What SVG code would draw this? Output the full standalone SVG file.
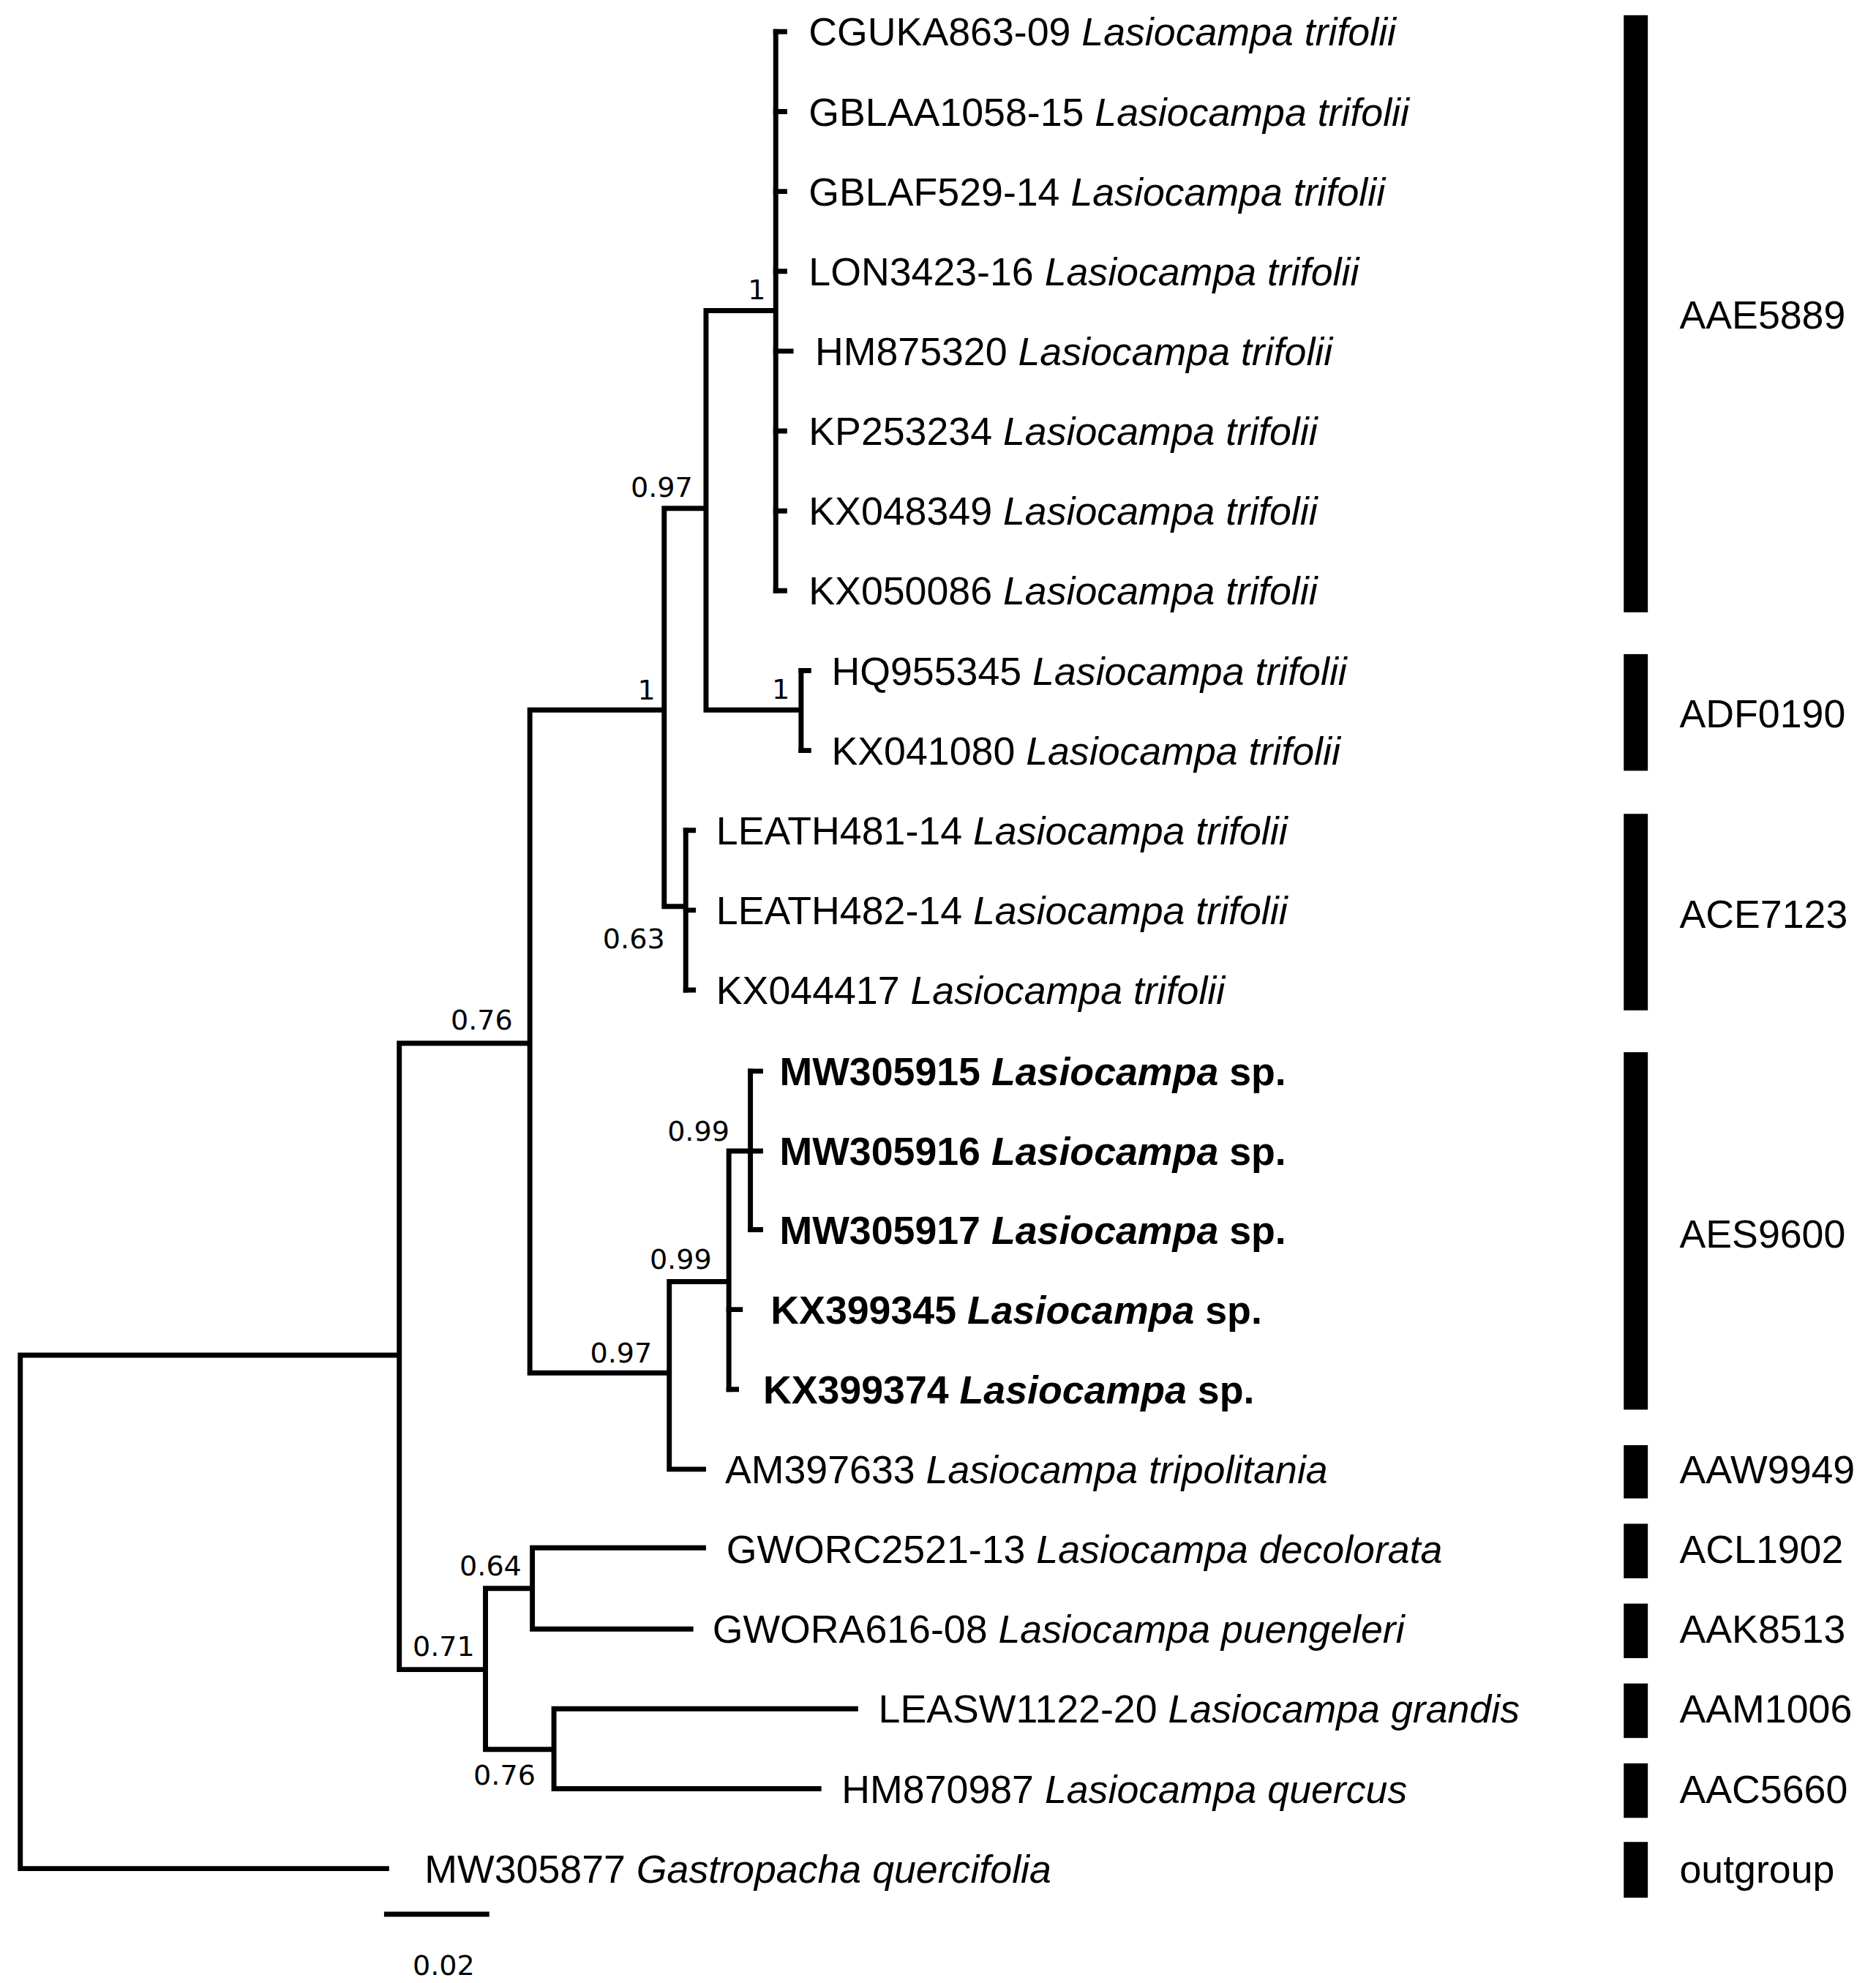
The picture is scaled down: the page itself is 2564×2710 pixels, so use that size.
<svg xmlns="http://www.w3.org/2000/svg" width="2564" height="2710" viewBox="0 0 2564 2710">
<style>
.b{fill:none;stroke:#000;stroke-width:4;stroke-linecap:square}
.t{font-family:"Liberation Sans",Arial,sans-serif;font-size:31px;fill:#000}
.s{font-style:italic}
.bd{font-weight:bold}
.n{font-family:"DejaVu Sans",sans-serif;font-size:22px;fill:#000;text-anchor:middle}
.bar{fill:#000}
</style>
<rect width="2564" height="2710" fill="#fff"/>
<g transform="scale(1.73243)">
<g id="connectors">
<path class="b" d="M16,1069V1474H305M16,1069H315M315,823V1317M315,823H418M418,560V1083M418,560H524M524,401V715M524,401H557M557,245V560M557,245H612M612,25V466M557,560H632M632,529V592M524,715H541M541,655V781M418,1083H528M528,1011V1159M528,1011H575M575,908V1096M575,908H592M592,845V970M528,1159H555M315,1317H383M383,1253V1380M383,1253H420M420,1221V1285M420,1221H555M420,1285H545M383,1380H437M437,1348V1411M437,1348H675M437,1411H646"/>
<path class="b" d="M612,25H619M612,88H619M612,151H619M612,214H619M612,277H624M612,340H619M612,403H619M612,466H619M632,529H638M632,592H638M541,655H547M541,718H547M541,781H547M592,845H600M592,908H600M592,970H600M575,1033H584M575,1096H581"/>
<path class="b" d="M305,1510H384"/>
</g>
<g id="support" >
<text class="n" x="597" y="236">1</text>
<text class="n" x="522" y="392">0.97</text>
<text class="n" x="510" y="552">1</text>
<text class="n" x="616" y="551">1</text>
<text class="n" x="500" y="748">0.63</text>
<text class="n" x="380" y="812">0.76</text>
<text class="n" x="551" y="900">0.99</text>
<text class="n" x="537" y="1001">0.99</text>
<text class="n" x="490" y="1075">0.97</text>
<text class="n" x="387" y="1243">0.64</text>
<text class="n" x="350" y="1306">0.71</text>
<text class="n" x="398" y="1408">0.76</text>
<text class="n" x="350" y="1558">0.02</text>
</g>
<g id="leaves">
<text class="t" x="638" y="36">CGUKA863-09 <tspan class="s">Lasiocampa trifolii</tspan></text>
<text class="t" x="638" y="99">GBLAA1058-15 <tspan class="s">Lasiocampa trifolii</tspan></text>
<text class="t" x="638" y="162">GBLAF529-14 <tspan class="s">Lasiocampa trifolii</tspan></text>
<text class="t" x="638" y="225">LON3423-16 <tspan class="s">Lasiocampa trifolii</tspan></text>
<text class="t" x="643" y="288">HM875320 <tspan class="s">Lasiocampa trifolii</tspan></text>
<text class="t" x="638" y="351">KP253234 <tspan class="s">Lasiocampa trifolii</tspan></text>
<text class="t" x="638" y="414">KX048349 <tspan class="s">Lasiocampa trifolii</tspan></text>
<text class="t" x="638" y="477">KX050086 <tspan class="s">Lasiocampa trifolii</tspan></text>
<text class="t" x="656" y="540">HQ955345 <tspan class="s">Lasiocampa trifolii</tspan></text>
<text class="t" x="656" y="603">KX041080 <tspan class="s">Lasiocampa trifolii</tspan></text>
<text class="t" x="565" y="666">LEATH481-14 <tspan class="s">Lasiocampa trifolii</tspan></text>
<text class="t" x="565" y="729">LEATH482-14 <tspan class="s">Lasiocampa trifolii</tspan></text>
<text class="t" x="565" y="792">KX044417 <tspan class="s">Lasiocampa trifolii</tspan></text>
<text class="t bd" x="615" y="856">MW305915 <tspan class="s">Lasiocampa</tspan> sp.</text>
<text class="t bd" x="615" y="919">MW305916 <tspan class="s">Lasiocampa</tspan> sp.</text>
<text class="t bd" x="615" y="981">MW305917 <tspan class="s">Lasiocampa</tspan> sp.</text>
<text class="t bd" x="608" y="1044">KX399345 <tspan class="s">Lasiocampa</tspan> sp.</text>
<text class="t bd" x="602" y="1107">KX399374 <tspan class="s">Lasiocampa</tspan> sp.</text>
<text class="t" x="572" y="1170">AM397633 <tspan class="s">Lasiocampa tripolitania</tspan></text>
<text class="t" x="573" y="1233">GWORC2521-13 <tspan class="s">Lasiocampa decolorata</tspan></text>
<text class="t" x="562" y="1296">GWORA616-08 <tspan class="s">Lasiocampa puengeleri</tspan></text>
<text class="t" x="693" y="1359">LEASW1122-20 <tspan class="s">Lasiocampa grandis</tspan></text>
<text class="t" x="664" y="1422">HM870987 <tspan class="s">Lasiocampa quercus</tspan></text>
<text class="t" x="335" y="1485">MW305877 <tspan class="s">Gastropacha quercifolia</tspan></text>
</g>
<g id="bins">
<rect class="bar" x="1281" y="12" width="19" height="471"/>
<rect class="bar" x="1281" y="516" width="19" height="92"/>
<rect class="bar" x="1281" y="642" width="19" height="155"/>
<rect class="bar" x="1281" y="830" width="19" height="282"/>
<rect class="bar" x="1281" y="1140" width="19" height="42"/>
<rect class="bar" x="1281" y="1202" width="19" height="43"/>
<rect class="bar" x="1281" y="1265" width="19" height="43"/>
<rect class="bar" x="1281" y="1328" width="19" height="43"/>
<rect class="bar" x="1281" y="1391" width="19" height="43"/>
<rect class="bar" x="1281" y="1453" width="19" height="44"/>
<text class="t" x="1325" y="259">AAE5889</text>
<text class="t" x="1325" y="574">ADF0190</text>
<text class="t" x="1325" y="732">ACE7123</text>
<text class="t" x="1325" y="984">AES9600</text>
<text class="t" x="1325" y="1170">AAW9949</text>
<text class="t" x="1325" y="1233">ACL1902</text>
<text class="t" x="1325" y="1296">AAK8513</text>
<text class="t" x="1325" y="1359">AAM1006</text>
<text class="t" x="1325" y="1422">AAC5660</text>
<text class="t" x="1325" y="1485">outgroup</text>
</g>
</g>
</svg>
